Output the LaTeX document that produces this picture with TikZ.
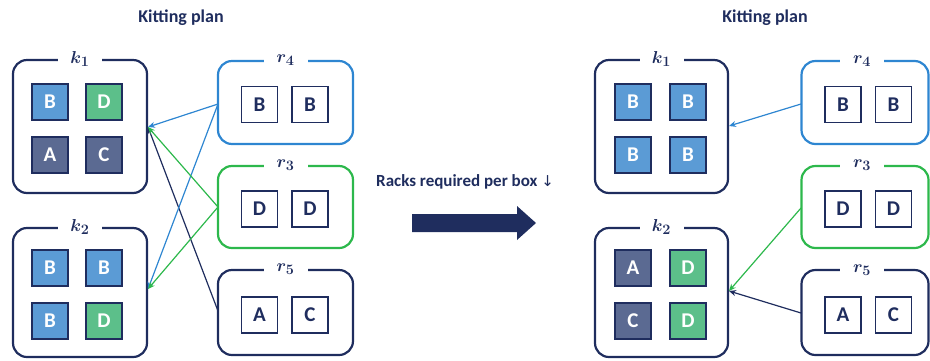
\documentclass[tikz,border=0pt]{standalone}
\usepackage{fontspec}
\setmainfont{Carlito}
\newfontfamily\dejavu{DejaVu Sans}
\usetikzlibrary{arrows.meta}
\definecolor{navy}{HTML}{1F2D5E}
\definecolor{rblue}{HTML}{2E86D1}
\definecolor{rgreen}{HTML}{2DB84C}
\definecolor{fillB}{HTML}{5B9BD5}
\definecolor{fillD}{HTML}{5CBF8A}
\definecolor{fillA}{HTML}{5B6A92}
\tikzset{
  kbox/.style={draw=#1, line width=2.2pt, rounded corners=14pt, minimum width=134pt, inner sep=0pt},
  sq/.style={draw=navy, line width=1.3pt, minimum size=36pt, inner sep=0pt, text=navy,
    font=\bfseries\fontsize{21}{21}\selectfont},
  sqf/.style={sq, fill=#1, text=white},
  lab/.style={fill=white, inner sep=0pt, minimum width=44pt, minimum height=16pt, text=navy,
    font=\fontsize{19}{19}\selectfont\boldmath},
  title/.style={text=navy, font=\bfseries\fontsize{18}{18}\selectfont},
  link/.style={draw=#1, line width=1.2pt, -{Stealth[length=7pt,width=6pt]}}
}
\begin{document}
\begin{tikzpicture}[x=1pt,y=-1pt]
\useasboundingbox (0,0) rectangle (930,360);

% ---------- left ----------
\node[title] (t1) at (181,18) {Kitting plan};
\node[kbox=navy, minimum height=133pt] (k1) at (80,126.5) {};
\node[kbox=navy, minimum height=129pt] (k2) at (80,292.5) {};
\node[lab] (lk1) at (k1.north) {$k_1$};
\node[lab] (lk2) at (k2.north) {$k_2$};
\node[sqf=fillB] (a1) at (50,102) {B};
\node[sqf=fillD] (a2) at (104,102) {D};
\node[sqf=fillA] (a3) at (50,155) {A};
\node[sqf=fillA] (a4) at (104,155) {C};
\node[sqf=fillB] (b1) at (50,268) {B};
\node[sqf=fillB] (b2) at (104,268) {B};
\node[sqf=fillB] (b3) at (50,321) {B};
\node[sqf=fillD] (b4) at (104,321) {D};

\node[kbox=rblue, minimum width=135pt, minimum height=83pt] (r4) at (285.5,102.5) {};
\node[kbox=rgreen, minimum width=135pt, minimum height=82pt] (r3) at (285.5,207) {};
\node[kbox=navy, minimum width=135pt, minimum height=85pt] (r5) at (285.5,312.5) {};
\node[lab] (lr4) at (r4.north) {$r_4$};
\node[lab] (lr3) at (r3.north) {$r_3$};
\node[lab] (lr5) at (r5.north) {$r_5$};
\node[sq] (c1) at (259.5,104.5) {B};
\node[sq] (c2) at (310,104.5) {B};
\node[sq] (d1) at (259.5,209) {D};
\node[sq] (d2) at (310,209) {D};
\node[sq] (e1) at (259.5,315) {A};
\node[sq] (e2) at (310,315) {C};

\coordinate (k1in) at (148,127);
\coordinate (k2in) at (148,289);
\coordinate (r4out) at (218,104);
\coordinate (r3out) at (218,207);
\coordinate (r5out) at (218,311);
\draw[link=navy] (r5out) -- (k1in);
\draw[link=rblue] (r4out) -- (k1in);
\draw[link=rblue] (r4out) -- (k2in);
\draw[link=rgreen] (r3out) -- (k1in);
\draw[link=rgreen] (r3out) -- (k2in);

% ---------- middle ----------
\node[title, font=\bfseries\fontsize{17}{17}\selectfont] (mid) at (465,182) {Racks required per box {\dejavu\mdseries\fontsize{15}{15}\selectfont↓}};
\fill[navy] (412,214) -- (517,214) -- (517,206) -- (536,223) -- (517,240) -- (517,232) -- (412,232) -- cycle;

% ---------- right ----------
\node[title] (t2) at (765,18) {Kitting plan};
\node[kbox=navy, minimum width=133pt, minimum height=133pt] (K1) at (661.5,126.5) {};
\node[kbox=navy, minimum width=133pt, minimum height=129pt] (K2) at (661.5,292.5) {};
\node[lab] (LK1) at (K1.north) {$k_1$};
\node[lab] (LK2) at (K2.north) {$k_2$};
\node[sqf=fillB] (A1) at (633,102) {B};
\node[sqf=fillB] (A2) at (688,102) {B};
\node[sqf=fillB] (A3) at (633,155) {B};
\node[sqf=fillB] (A4) at (688,155) {B};
\node[sqf=fillA] (B1) at (633,268) {A};
\node[sqf=fillD] (B2) at (688,268) {D};
\node[sqf=fillA] (B3) at (633,321) {C};
\node[sqf=fillD] (B4) at (688,321) {D};

\node[kbox=rblue, minimum width=127pt, minimum height=83pt] (R4) at (865,102.5) {};
\node[kbox=rgreen, minimum width=127pt, minimum height=82pt] (R3) at (865,207) {};
\node[kbox=navy, minimum width=127pt, minimum height=85pt] (R5) at (865,312.5) {};
\node[lab] (LR4) at (862,61) {$r_4$};
\node[lab] (LR3) at (862,165.5) {$r_3$};
\node[lab] (LR5) at (862,270) {$r_5$};
\node[sq] (C1) at (843,104.5) {B};
\node[sq] (C2) at (893.5,104.5) {B};
\node[sq] (D1) at (843,209) {D};
\node[sq] (D2) at (893.5,209) {D};
\node[sq] (E1) at (843,315) {A};
\node[sq] (E2) at (893.5,315) {C};

\coordinate (K1in) at (729,126);
\coordinate (K2in) at (729,291);
\coordinate (R4out) at (801,104);
\coordinate (R3out) at (801,208);
\coordinate (R5out) at (801,313);
\draw[link=rblue] (R4out) -- (K1in);
\draw[link=rgreen] (R3out) -- (K2in);
\draw[link=navy] (R5out) -- (K2in);
\end{tikzpicture}
\end{document}
